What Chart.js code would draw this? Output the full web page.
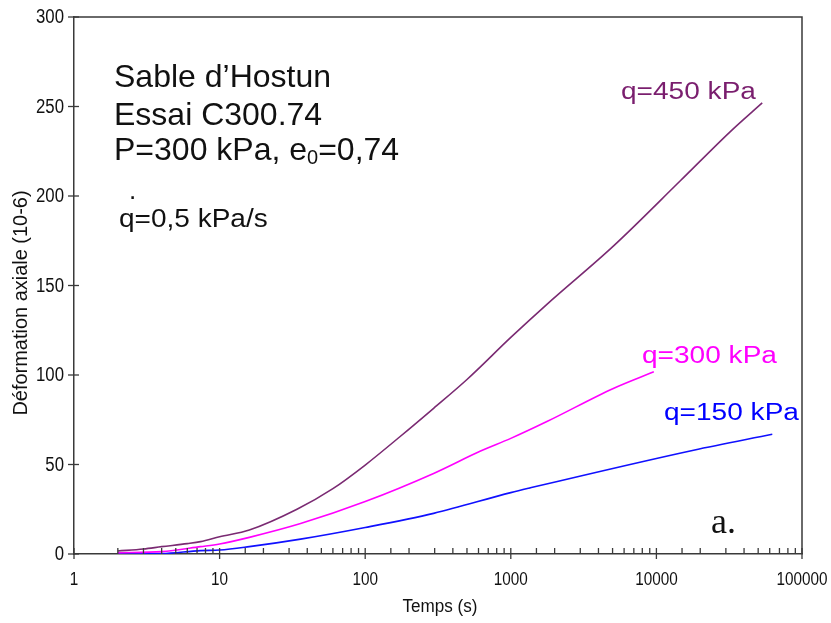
<!DOCTYPE html>
<html>
<head>
<meta charset="utf-8">
<script src="https://cdn.jsdelivr.net/npm/chart.js@4.4.1/dist/chart.umd.min.js"></script>
<style>
html,body{margin:0;padding:0;background:#fff;}
#wrap{width:831px;height:623px;position:relative;}
</style>
</head>
<body>
<div id="wrap"><canvas id="c" width="831" height="623"></canvas></div>
<script>
// ---- data ----
const seriesNames = ['q=450 kPa', 'q=300 kPa', 'q=150 kPa'];
const time450 = [2, 3, 4, 6, 7.4, 10, 16, 34, 60, 100, 173, 295, 500, 1000, 1770, 5060, 14600, 32200, 53300];
const def450  = [1.7, 2.8, 4.1, 5.8, 6.9, 9.6, 13.4, 25, 36.5, 49.7, 65.5, 81.4, 97.5, 121, 139.5, 172, 208.5, 236, 252];
const time300 = [2, 4, 7.4, 10, 16, 36, 100, 295, 620, 1000, 1770, 5060, 9600];
const def300  = [0.7, 1.3, 4.1, 5.6, 9.3, 17, 29.3, 45, 57.5, 64.6, 74, 92.5, 101.8];
const time150 = [2, 4, 7.4, 10, 16, 36, 100, 295, 1000, 1320, 18000, 62500];
const def150  = [0, 0.2, 1.9, 2.2, 4.1, 8.3, 14.8, 22.7, 34.3, 36.7, 58, 66.9];
const xTickLabels = ['1', '10', '100', '1000', '10000', '100000'];
const yTickValues = [0, 50, 100, 150, 200, 250, 300];
const seriesColors = ['#7a2a72', '#ff00ff', '#1010ff'];
const labelColors  = ['#7a1e6e', '#ff00ff', '#0000ff'];

const toPts = (ts, vs) => ts.map((t, i) => ({x: t, y: vs[i]}));

function sText(ctx, txt, x, y, font, sx, align) {
  ctx.save();
  ctx.font = font;
  ctx.translate(x, y);
  ctx.scale(sx, 1);
  ctx.textAlign = align || 'left';
  ctx.fillText(txt, 0, 0);
  const w = ctx.measureText(txt).width * sx;
  ctx.restore();
  return w;
}

const SANS = "'Liberation Sans', Arial, sans-serif";

const decor = {
  id: 'decor',
  afterDraw(chart) {
    const ctx = chart.ctx;
    const xs = chart.scales.x, ys = chart.scales.y;
    const a = chart.chartArea;
    ctx.save();
    ctx.strokeStyle = '#3a3a3a';
    ctx.lineWidth = 1.5;
    // frame top and right
    ctx.beginPath();
    ctx.moveTo(a.left, a.top); ctx.lineTo(a.right, a.top); ctx.lineTo(a.right, a.bottom);
    ctx.stroke();
    // x ticks
    ctx.lineWidth = 1.3;
    xs.ticks.forEach(tk => {
      const px = xs.getPixelForValue(tk.value);
      const lg = Math.log10(tk.value);
      const major = Math.abs(lg - Math.round(lg)) < 1e-9;
      ctx.beginPath();
      ctx.moveTo(px, a.bottom - 6);
      ctx.lineTo(px, a.bottom + (major ? 5 : 0));
      ctx.stroke();
    });
    // y ticks
    yTickValues.forEach(v => {
      const py = ys.getPixelForValue(v);
      ctx.beginPath();
      ctx.moveTo(a.left - 6, py); ctx.lineTo(a.left + 5, py);
      ctx.stroke();
    });
    // tick labels (condensed)
    ctx.fillStyle = '#111';
    ctx.textBaseline = 'middle';
    yTickValues.forEach(v => {
      sText(ctx, String(v), a.left - 10, ys.getPixelForValue(v) + 1, "19.5px " + SANS, 0.86, 'right');
    });
    xTickLabels.forEach((lab, i) => {
      sText(ctx, lab, xs.getPixelForValue(Math.pow(10, i)), 580, "18px " + SANS, 0.85, 'center');
    });
    // axis titles
    sText(ctx, 'Temps (s)', (a.left + a.right) / 2 + 2, 607, "18px " + SANS, 0.95, 'center');
    ctx.save();
    ctx.translate(21, 303);
    ctx.rotate(-Math.PI / 2);
    sText(ctx, 'Déformation axiale (10-6)', 0, 0, "21px " + SANS, 0.95, 'center');
    ctx.restore();

    // info text block
    ctx.textBaseline = 'alphabetic';
    ctx.fillStyle = '#111';
    sText(ctx, 'Sable d\u2019Hostun', 114, 87, "32px " + SANS, 1, 'left');
    sText(ctx, 'Essai C300.74', 114, 125, "32px " + SANS, 1, 'left');
    let w = sText(ctx, 'P=300 kPa, e', 114, 160, "32px " + SANS, 1, 'left');
    const w0 = sText(ctx, '0', 114 + w, 164, "20px " + SANS, 1, 'left');
    sText(ctx, '=0,74', 114 + w + w0, 160, "32px " + SANS, 1, 'left');
    sText(ctx, '.', 129, 199, "26px " + SANS, 1, 'left');
    sText(ctx, 'q=0,5 kPa/s', 119, 227, "25px " + SANS, 1.12, 'left');

    // curve labels
    ctx.fillStyle = labelColors[0];
    sText(ctx, seriesNames[0], 621, 99, "23px " + SANS, 1.22, 'left');
    ctx.fillStyle = labelColors[1];
    sText(ctx, seriesNames[1], 642, 363, "23px " + SANS, 1.22, 'left');
    ctx.fillStyle = labelColors[2];
    sText(ctx, seriesNames[2], 664, 420, "23px " + SANS, 1.22, 'left');

    // panel letter
    ctx.fillStyle = '#111';
    sText(ctx, 'a.', 711, 533, "36px 'Liberation Serif', 'Times New Roman', serif", 1, 'left');
    ctx.restore();
  }
};

new Chart(document.getElementById('c'), {
  type: 'scatter',
  data: {
    datasets: [
      {label: seriesNames[0], data: toPts(time450, def450), borderColor: seriesColors[0]},
      {label: seriesNames[1], data: toPts(time300, def300), borderColor: seriesColors[1]},
      {label: seriesNames[2], data: toPts(time150, def150), borderColor: seriesColors[2]}
    ].map(d => Object.assign(d, {showLine: true, pointRadius: 0, borderWidth: 1.6, cubicInterpolationMode: 'monotone', fill: false}))
  },
  options: {
    responsive: false,
    animation: false,
    devicePixelRatio: 1,
    layout: {padding: {left: 0, top: 17, right: 29, bottom: 0}},
    plugins: {legend: {display: false}, tooltip: {enabled: false}},
    scales: {
      x: {
        type: 'logarithmic', min: 1, max: 100000, position: 'bottom',
        afterFit(s) { s.height = 69; s.paddingLeft = 0; s.paddingRight = 0; },
        grid: {display: true, drawOnChartArea: false, drawTicks: false},
        border: {display: true, color: '#3a3a3a', width: 1.5},
        ticks: {display: false, autoSkip: false}
      },
      y: {
        type: 'linear', min: 0, max: 300,
        afterFit(s) { s.width = 74; s.paddingTop = 0; s.paddingBottom = 0; },
        afterBuildTicks(s) { s.ticks = yTickValues.map(v => ({value: v})); },
        grid: {display: true, drawOnChartArea: false, drawTicks: false},
        border: {display: true, color: '#3a3a3a', width: 1.5},
        ticks: {display: false}
      }
    }
  },
  plugins: [decor]
});
</script>
</body>
</html>
